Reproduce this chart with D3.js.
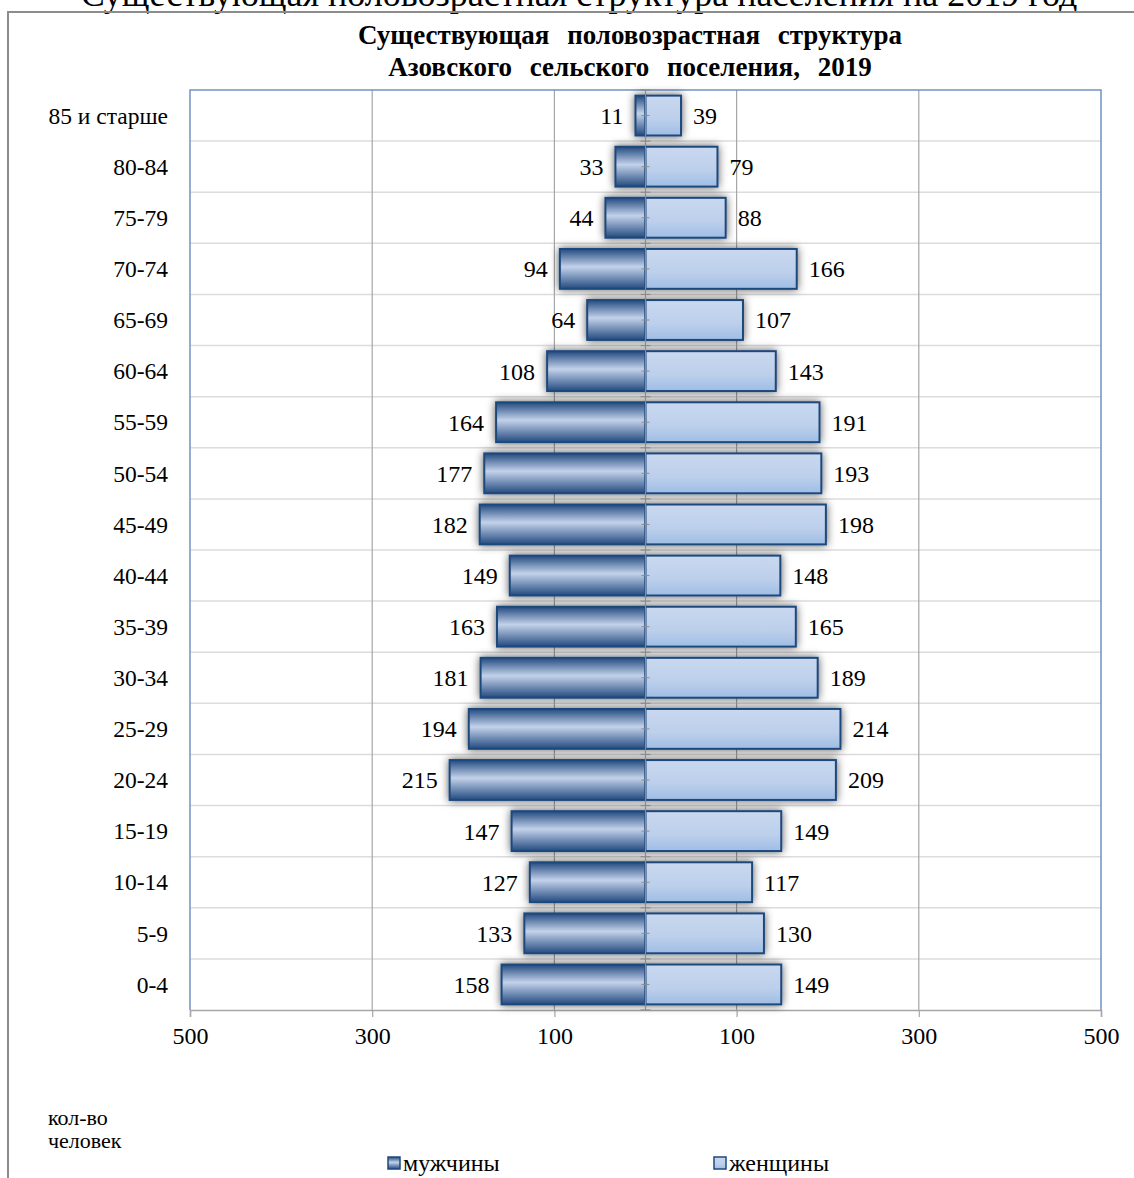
<!DOCTYPE html>
<html>
<head>
<meta charset="utf-8">
<script src="https://cdn.jsdelivr.net/npm/d3@7/dist/d3.min.js"></script>
<style>
  body { margin: 0; background: #fff; }
  svg text { font-family: "Liberation Serif", "Times New Roman", serif; fill: #000; }
</style>
</head>
<body>
<div id="chart"></div>
<script>
var ageGroups = ["0-4", "5-9", "10-14", "15-19", "20-24", "25-29", "30-34", "35-39", "40-44",
                 "45-49", "50-54", "55-59", "60-64", "65-69", "70-74", "75-79", "80-84", "85 и старше"];
var men   = [158, 133, 127, 147, 215, 194, 181, 163, 149, 182, 177, 164, 108, 64, 94, 44, 33, 11];
var women = [149, 130, 117, 149, 209, 214, 189, 165, 148, 198, 193, 191, 143, 107, 166, 88, 79, 39];
var tickValues = [-500, -300, -100, 100, 300, 500];
var seriesNames = ["мужчины", "женщины"];

var width = 1134, height = 1178;
var plot = { left: 190, right: 1101, top: 90, bottom: 1010 };

var svg = d3.select("#chart").append("svg")
    .attr("width", width)
    .attr("height", height);

var defs = svg.append("defs");

var gMen = defs.append("linearGradient")
    .attr("id", "gradMen")
    .attr("x1", 0).attr("y1", 0).attr("x2", 0).attr("y2", 1);
gMen.append("stop").attr("offset", "0%").attr("stop-color", "#234a80");
gMen.append("stop").attr("offset", "45%").attr("stop-color", "#c3d2ea");
gMen.append("stop").attr("offset", "100%").attr("stop-color", "#234a80");

var gWomen = defs.append("linearGradient")
    .attr("id", "gradWomen")
    .attr("x1", 0).attr("y1", 0).attr("x2", 0).attr("y2", 1);
gWomen.append("stop").attr("offset", "0%").attr("stop-color", "#c9d8ef");
gWomen.append("stop").attr("offset", "60%").attr("stop-color", "#bccfeb");
gWomen.append("stop").attr("offset", "100%").attr("stop-color", "#9fbde5");

var shadow = defs.append("filter")
    .attr("id", "glow")
    .attr("x", "-20%").attr("y", "-30%")
    .attr("width", "140%").attr("height", "160%");
shadow.append("feGaussianBlur")
    .attr("in", "SourceAlpha")
    .attr("stdDeviation", 4)
    .attr("result", "blur");
shadow.append("feFlood").attr("flood-color", "#000").attr("flood-opacity", 0.65);
shadow.append("feComposite").attr("in2", "blur").attr("operator", "in").attr("result", "sh");
var merge = shadow.append("feMerge");
merge.append("feMergeNode").attr("in", "sh");
merge.append("feMergeNode").attr("in", "SourceGraphic");

// page title, cut off at the top like in the source
svg.append("text")
    .attr("x", 579)
    .attr("y", 6)
    .attr("text-anchor", "middle")
    .style("font-size", "36px")
    .text("Существующая половозрастная структура населения на 2019 год");

// chart area border
svg.append("rect")
    .attr("x", 8)
    .attr("y", 12)
    .attr("width", 1140)
    .attr("height", 1200)
    .attr("fill", "none")
    .attr("stroke", "#8c8c8c")
    .attr("stroke-width", 2);

var x = d3.scaleLinear()
    .domain([-500, 500])
    .range([plot.left, plot.right]);

var y = d3.scaleBand()
    .domain(ageGroups.slice().reverse())
    .range([plot.top, plot.bottom])
    .paddingInner(0.22)
    .paddingOuter(0.11);

var bandStep = y.step();
var rows = ageGroups.map(function(d, i) {
    return { age: d, men: men[i], women: women[i] };
});

// horizontal grid lines at category boundaries
svg.append("g").selectAll("line")
    .data(d3.range(1, ageGroups.length))
    .join("line")
    .attr("x1", plot.left)
    .attr("x2", plot.right)
    .attr("y1", function(i) { return plot.top + i * bandStep; })
    .attr("y2", function(i) { return plot.top + i * bandStep; })
    .attr("stroke", "#dcdcdc")
    .attr("stroke-width", 1.5);

// vertical grid lines
svg.append("g").selectAll("line")
    .data(tickValues.slice(1, -1))
    .join("line")
    .attr("x1", function(d) { return x(d); })
    .attr("x2", function(d) { return x(d); })
    .attr("y1", plot.top)
    .attr("y2", plot.bottom)
    .attr("stroke", "#a6a6a6")
    .attr("stroke-width", 1.2);

// plot border (top, left, right)
svg.append("path")
    .attr("d", "M" + plot.left + "," + plot.bottom + "V" + plot.top + "H" + plot.right + "V" + plot.bottom)
    .attr("fill", "none")
    .attr("stroke", "#7393c4")
    .attr("stroke-width", 1.5);

// x axis
var xAxis = d3.axisBottom(x)
    .tickValues(tickValues)
    .tickSize(7)
    .tickFormat(function(d) { return Math.abs(d); });

var axisG = svg.append("g")
    .attr("transform", "translate(0," + plot.bottom + ")")
    .call(xAxis);
axisG.select(".domain").attr("stroke", "#a6a6a6").attr("stroke-width", 1.5);
axisG.selectAll(".tick line").attr("stroke", "#a6a6a6").attr("stroke-width", 1.2);
axisG.selectAll(".tick text")
    .attr("y", 17)
    .attr("dy", "0.71em")
    .style("font-family", "'Liberation Serif', serif")
    .style("font-size", "24px")
    .attr("fill", "#000");

// bars
var barsG = svg.append("g").attr("filter", "url(#glow)");

barsG.selectAll("rect.men")
    .data(rows)
    .join("rect")
    .attr("class", "men")
    .attr("x", function(d) { return x(-d.men); })
    .attr("y", function(d) { return y(d.age); })
    .attr("width", function(d) { return x(0) - x(-d.men); })
    .attr("height", y.bandwidth())
    .attr("fill", "url(#gradMen)")
    .attr("stroke", "#1f487c")
    .attr("stroke-width", 2);

barsG.selectAll("rect.women")
    .data(rows)
    .join("rect")
    .attr("class", "women")
    .attr("x", x(0))
    .attr("y", function(d) { return y(d.age); })
    .attr("width", function(d) { return x(d.women) - x(0); })
    .attr("height", y.bandwidth())
    .attr("fill", "url(#gradWomen)")
    .attr("stroke", "#1f487c")
    .attr("stroke-width", 2);

// center category axis with tick marks
var cx = x(0);
svg.append("line")
    .attr("x1", cx).attr("x2", cx)
    .attr("y1", plot.top).attr("y2", plot.bottom)
    .attr("stroke", "#8c8c8c")
    .attr("stroke-width", 1.2);

svg.append("g").selectAll("line")
    .data(d3.range(0, ageGroups.length + 1))
    .join("line")
    .attr("x1", cx - 5).attr("x2", cx + 5)
    .attr("y1", function(i) { return plot.top + i * bandStep; })
    .attr("y2", function(i) { return plot.top + i * bandStep; })
    .attr("stroke", "#8c8c8c")
    .attr("stroke-width", 1.2);

svg.append("g").selectAll("line")
    .data(rows)
    .join("line")
    .attr("x1", cx - 4).attr("x2", cx + 4)
    .attr("y1", function(d) { return y(d.age) + y.bandwidth() / 2; })
    .attr("y2", function(d) { return y(d.age) + y.bandwidth() / 2; })
    .attr("stroke", "#8c8c8c")
    .attr("stroke-width", 1);

// value labels
svg.append("g").selectAll("text")
    .data(rows)
    .join("text")
    .attr("x", function(d) { return x(-d.men) - 12; })
    .attr("y", function(d) { return y(d.age) + y.bandwidth() / 2; })
    .attr("dy", "0.35em")
    .attr("text-anchor", "end")
    .style("font-size", "24px")
    .text(function(d) { return d.men; });

svg.append("g").selectAll("text")
    .data(rows)
    .join("text")
    .attr("x", function(d) { return x(d.women) + 12; })
    .attr("y", function(d) { return y(d.age) + y.bandwidth() / 2; })
    .attr("dy", "0.35em")
    .attr("text-anchor", "start")
    .style("font-size", "24px")
    .text(function(d) { return d.women; });

// category labels
svg.append("g").selectAll("text")
    .data(rows)
    .join("text")
    .attr("x", 168)
    .attr("y", function(d) { return y(d.age) + y.bandwidth() / 2; })
    .attr("dy", "0.35em")
    .attr("text-anchor", "end")
    .style("font-size", "23.5px")
    .text(function(d) { return d.age; });

// chart title
var title = svg.append("text")
    .attr("x", 630)
    .attr("text-anchor", "middle")
    .style("font-size", "27px")
    .style("font-weight", "bold")
    .style("word-spacing", "11px");
title.append("tspan").attr("x", 630).attr("y", 44).text("Существующая половозрастная структура");
title.append("tspan").attr("x", 630).attr("y", 76).text("Азовского сельского поселения, 2019");

// unit note
var unit = svg.append("text").style("font-size", "22px");
unit.append("tspan").attr("x", 48).attr("y", 1125).text("кол-во");
unit.append("tspan").attr("x", 48).attr("y", 1148).text("человек");

// legend
var legendX = [388, 714];
var legendFill = ["url(#gradMen)", "url(#gradWomen)"];
var legend = svg.append("g").selectAll("g")
    .data(seriesNames)
    .join("g")
    .attr("transform", function(d, i) { return "translate(" + legendX[i] + ",1157)"; });
legend.append("rect")
    .attr("width", 12)
    .attr("height", 12)
    .attr("fill", function(d, i) { return legendFill[i]; })
    .attr("stroke", "#1f487c")
    .attr("stroke-width", 1.5);
legend.append("text")
    .attr("x", 15)
    .attr("y", 14)
    .style("font-size", "24px")
    .text(function(d) { return d; });
</script>
</body>
</html>
